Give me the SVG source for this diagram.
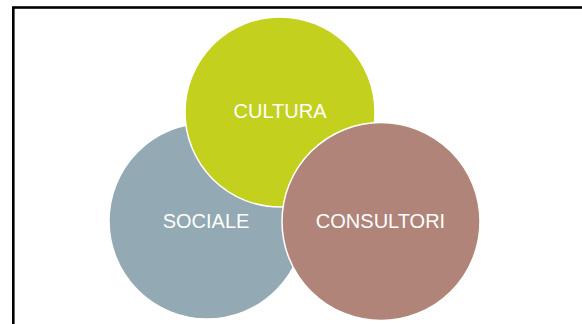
<svg xmlns="http://www.w3.org/2000/svg" width="582" height="324" viewBox="0 0 582 324">
<style>
.c{stroke:#ffffff;stroke-width:1.5}
.t{font-family:"Liberation Sans",Arial,sans-serif;font-size:20px;fill:#ffffff;text-anchor:middle}
</style>
<rect x="0" y="0" width="582" height="324" fill="#ffffff"/>
<rect x="13.3" y="7.5" width="600" height="400" fill="none" stroke="#000000" stroke-width="2.6"/>
<g id="sociale">
<circle class="c" cx="207" cy="221" r="98" fill="#93A9B3"/>
<text class="t" x="206" y="228">SOCIALE</text>
</g>
<g id="cultura">
<circle class="c" cx="280" cy="112" r="95" fill="#C3D11E"/>
<text class="t" x="280" y="118">CULTURA</text>
</g>
<g id="consultori">
<circle class="c" cx="381" cy="221.5" r="99" fill="#B08478"/>
<text class="t" x="380.5" y="228">CONSULTORI</text>
</g>
<g id="connectors"></g>
</svg>
